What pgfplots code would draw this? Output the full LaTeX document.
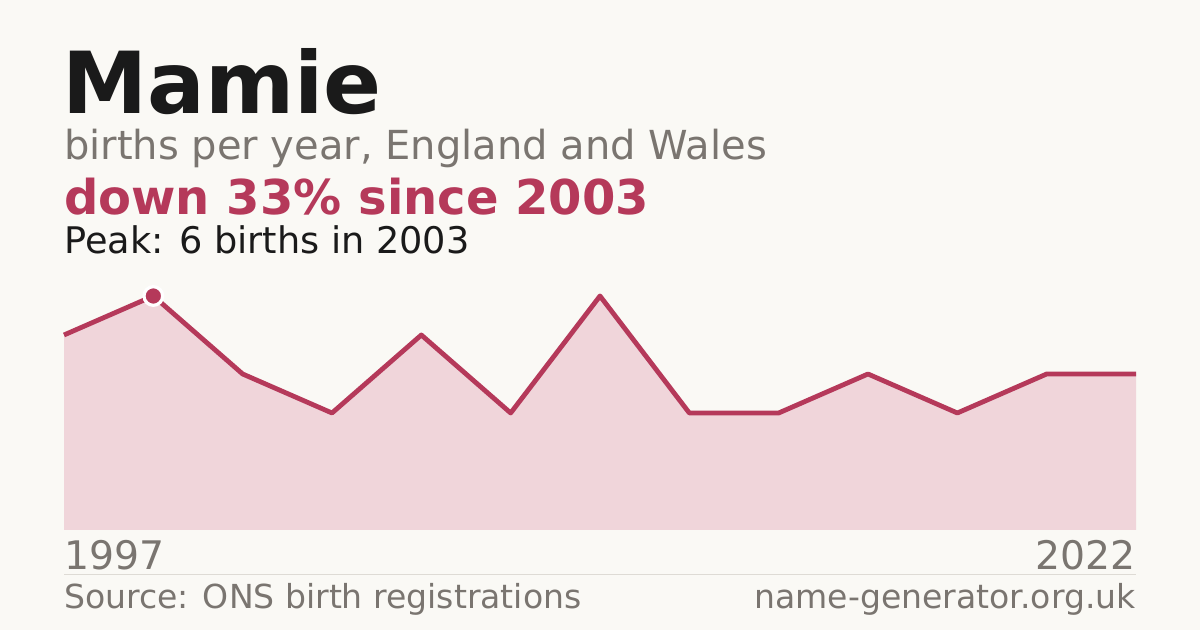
\documentclass[border=0pt]{standalone}
\usepackage{pgfplots}
\pgfplotsset{compat=1.18}
\usepackage{fontspec}
\setmainfont{DejaVu Sans}
\definecolor{bg}{HTML}{FAF9F5}
\definecolor{ttl}{HTML}{1A1A1A}
\definecolor{gry}{HTML}{7A7570}
\definecolor{red}{HTML}{B5395A}
\definecolor{pink}{HTML}{F0D5DA}
\definecolor{sep}{HTML}{DEDBD5}
\begin{document}
\begin{tikzpicture}
\begin{scope}[x=0.75pt,y=0.75pt]
\fill[bg] (0,0) rectangle (1200,630);
\useasboundingbox (0,0) rectangle (1200,630);
\node[anchor=base west,inner sep=0pt,text=ttl] at (62,630-114) {\fontsize{64.2pt}{70pt}\selectfont\bfseries Mamie};
\node[anchor=base west,inner sep=0pt,text=gry] at (64,630-160) {\fontsize{30pt}{33pt}\selectfont births per year, England and Wales};
\node[anchor=base west,inner sep=0pt,text=red] at (64,630-215) {\fontsize{36pt}{39pt}\selectfont\bfseries down 33\% since 2003};
\node[anchor=base west,inner sep=0pt,text=ttl] at (64,630-254) {\fontsize{27.5pt}{30pt}\selectfont Peak: 6 births in 2003};
\node[anchor=base west,inner sep=0pt,text=gry] at (64,630-570) {\fontsize{29.5pt}{32pt}\selectfont 1997};
\node[anchor=base east,inner sep=0pt,text=gry] at (1136,630-570) {\fontsize{29.5pt}{32pt}\selectfont 2022};
\draw[sep, line width=0.75pt] (64,630-574.5) -- (1136,630-574.5);
\node[anchor=base west,inner sep=0pt,text=gry] at (64,630-609) {\fontsize{24.8pt}{27pt}\selectfont Source: ONS birth registrations};
\node[anchor=base east,inner sep=0pt,text=gry] at (1136,630-609) {\fontsize{24.8pt}{27pt}\selectfont name-generator.org.uk};
\end{scope}
\begin{axis}[
  at={(48pt,75pt)}, anchor=origin,
  scale only axis, width=804pt, height=175.5pt,
  xmin=0, xmax=12, ymin=0, ymax=6,
  hide axis, clip=false,
]
\addplot[fill=pink, draw=none] coordinates {
(0,5) (1,6) (2,4) (3,3) (4,5) (5,3) (6,6) (7,3) (8,3) (9,4) (10,3) (11,4) (12,4)
} \closedcycle;
\addplot[red, line width=3.6pt, line join=round] coordinates {
(0,5) (1,6) (2,4) (3,3) (4,5) (5,3) (6,6) (7,3) (8,3) (9,4) (10,3) (11,4) (12,4)
};
\addplot[only marks, mark=*, mark size=7pt, mark options={fill=red, draw=white, line width=2.4pt}] coordinates {(1,6)};
\end{axis}
\end{tikzpicture}
\end{document}
